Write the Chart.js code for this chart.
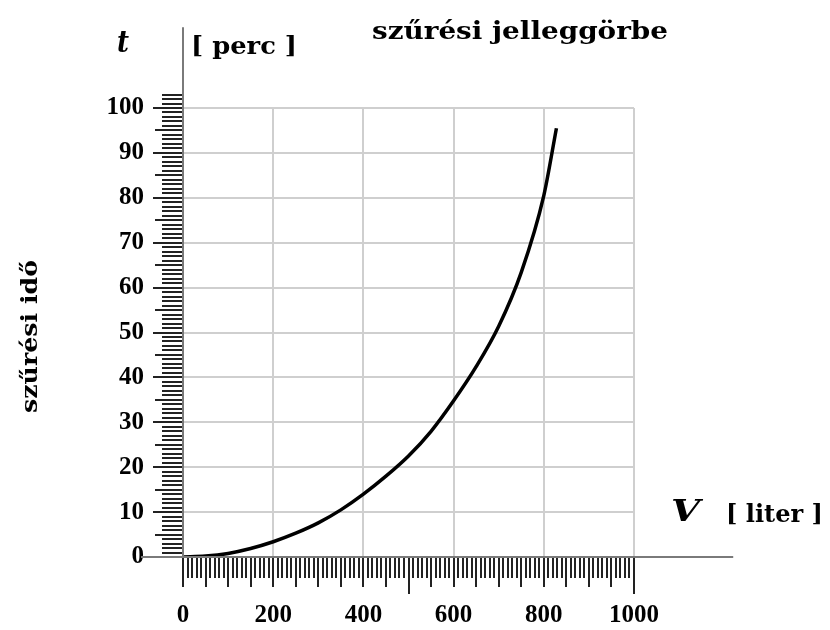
<!DOCTYPE html>
<html>
<head>
<meta charset="utf-8">
<script src="https://cdn.jsdelivr.net/npm/chart.js@4.4.0/dist/chart.umd.min.js"></script>
<style>
  html, body { margin: 0; padding: 0; background: #fff; }
  #wrap { width: 830px; height: 630px; position: relative; }
</style>
</head>
<body>
<div id="wrap"><canvas id="chart"></canvas></div>
<script>
// filtrate volume [liter] and filtration time [perc]
const volumes = [0, 50, 100, 150, 200, 250, 300, 350, 400, 450, 500, 550, 600, 650, 700, 750, 800, 828];
const times   = [0, 0.2, 0.8, 1.9, 3.4, 5.3, 7.6, 10.5, 14, 18, 22.5, 28, 34.8, 42.4, 51.4, 63.4, 80.5, 95.5];

const xTicks = [0, 200, 400, 600, 800, 1000];
const yTicks = [0, 10, 20, 30, 40, 50, 60, 70, 80, 90, 100];

const serif = '"DejaVu Serif", serif';
const tickFont = '"Liberation Serif", "Times New Roman", serif';

// draw a text stretched to a given width (left edge at x)
function fitText(ctx, text, x, y, width) {
    const w = ctx.measureText(text).width;
    ctx.save();
    ctx.translate(x, y);
    ctx.scale(width / w, 1);
    ctx.fillText(text, 0, 0);
    ctx.restore();
}

// axis lines, ruler ticks and the labels round the plot
const decorPlugin = {
    id: 'decor',
    afterDraw(chart) {
        const ctx = chart.ctx;
        const xs = chart.scales.x;
        const ys = chart.scales.y;
        const x0 = xs.getPixelForValue(0);
        const y0 = ys.getPixelForValue(0);

        ctx.save();

        // ruler ticks on the y axis, every 1 perc
        ctx.strokeStyle = '#222';
        ctx.lineWidth = 2;
        for (let v = 0; v <= 103; v++) {
            const py = Math.round(ys.getPixelForValue(v));
            const len = v % 10 === 0 ? 30 : (v % 5 === 0 ? 28 : 21);
            ctx.beginPath();
            ctx.moveTo(x0 - len, py);
            ctx.lineTo(x0, py);
            ctx.stroke();
        }

        // ruler ticks on the x axis, every 10 liter
        for (let v = 0; v <= 1000; v += 10) {
            const px = Math.round(xs.getPixelForValue(v));
            const len = (v === 500 || v === 1000) ? 37 : (v % 50 === 0 ? 30 : 21);
            ctx.beginPath();
            ctx.moveTo(px, y0);
            ctx.lineTo(px, y0 + len);
            ctx.stroke();
        }

        // axis lines
        ctx.strokeStyle = '#7a7a7a';
        ctx.lineWidth = 2;
        ctx.beginPath();
        ctx.moveTo(x0, ys.getPixelForValue(118));
        ctx.lineTo(x0, y0);
        ctx.stroke();
        ctx.beginPath();
        ctx.moveTo(x0 - 42, y0);
        ctx.lineTo(xs.getPixelForValue(1220), y0);
        ctx.stroke();

        // texts
        ctx.fillStyle = '#000';
        ctx.textBaseline = 'middle';
        ctx.textAlign = 'left';

        ctx.font = 'italic bold 30px ' + serif;
        fitText(ctx, 't', 117, 44, 12);
        ctx.font = 'italic bold 30px ' + serif;
        fitText(ctx, 'V', 671, 513, 29);

        ctx.font = 'bold 25px ' + serif;
        fitText(ctx, '[ perc ]', 191, 47, 106);
        fitText(ctx, '[ liter ]', 726, 515, 97);

        ctx.font = 'bold 24px ' + serif;
        fitText(ctx, 'szűrési jelleggörbe', 372, 33, 296);

        ctx.translate(31, 413);
        ctx.rotate(-Math.PI / 2);
        ctx.font = 'bold 23px ' + serif;
        fitText(ctx, 'szűrési idő', 0, 0, 153);

        ctx.restore();
    }
};

const gridColor = (c) => c.tick && c.tick.value === 0 ? 'rgba(0,0,0,0)' : '#cfcfcf';

new Chart(document.getElementById('chart'), {
    type: 'line',
    data: {
        labels: volumes,
        datasets: [{
            data: volumes.map((v, i) => ({ x: v, y: times[i] })),
            borderColor: '#000',
            borderWidth: 3.5,
            pointRadius: 0,
            cubicInterpolationMode: 'monotone',
            fill: false
        }]
    },
    options: {
        responsive: true,
        maintainAspectRatio: false,
        animation: false,
        layout: { padding: { left: 0, right: 196, top: 108, bottom: 0 } },
        plugins: {
            legend: { display: false },
            tooltip: { enabled: false }
        },
        scales: {
            x: {
                type: 'linear',
                min: 0,
                max: 1000,
                afterBuildTicks: (s) => { s.ticks = xTicks.map(v => ({ value: v })); },
                afterFit: (s) => { s.height = 73; },
                ticks: {
                    color: '#000',
                    padding: 44,
                    maxRotation: 0,
                    callback: (v) => String(v),
                    font: { family: tickFont, size: 25, weight: 'bold' }
                },
                grid: { color: gridColor, lineWidth: 2, drawTicks: false },
                border: { display: false }
            },
            y: {
                type: 'linear',
                min: 0,
                max: 100,
                afterBuildTicks: (s) => { s.ticks = yTicks.map(v => ({ value: v })); },
                afterFit: (s) => { s.width = 183; },
                ticks: {
                    color: '#000',
                    padding: 39,
                    callback: (v) => String(v),
                    font: { family: tickFont, size: 25, weight: 'bold' }
                },
                grid: { color: gridColor, lineWidth: 2, drawTicks: false },
                border: { display: false }
            }
        }
    },
    plugins: [decorPlugin]
});
</script>
</body>
</html>
